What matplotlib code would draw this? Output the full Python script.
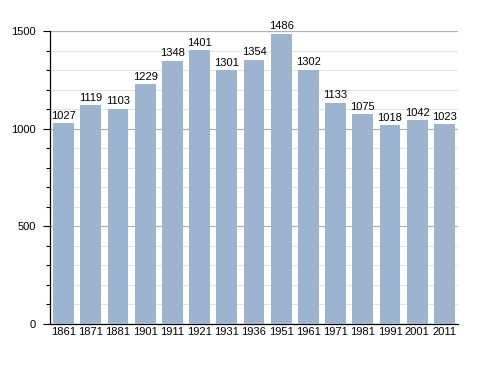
import matplotlib
matplotlib.use("Agg")
import matplotlib.pyplot as plt
from matplotlib.ticker import MultipleLocator

years = ["1861", "1871", "1881", "1901", "1911", "1921", "1931", "1936", "1951",
         "1961", "1971", "1981", "1991", "2001", "2011"]
population = [1027, 1119, 1103, 1229, 1348, 1401, 1301, 1354, 1486,
              1302, 1133, 1075, 1018, 1042, 1023]

plt.rcParams['font.family'] = ['Liberation Sans', 'DejaVu Sans']

fig = plt.figure(figsize=(4.88, 3.73), dpi=100)
ax = fig.add_axes([0.1025, 0.1314, 0.836, 0.7855])

x = range(len(years))
ax.bar(x, population, width=0.77, color='#9db4d0', zorder=3)
for xi, v in zip(x, population):
    ax.text(xi, v + 12, str(v), ha='center', va='bottom', fontsize=8, zorder=4)

ax.set_xlim(-0.5, len(years) - 0.5)
ax.set_ylim(0, 1500)
ax.set_xticks(list(x))
ax.set_xticklabels(years, fontsize=8)
ax.tick_params(axis='x', length=0, pad=2)
ax.yaxis.set_major_locator(MultipleLocator(500))
ax.yaxis.set_minor_locator(MultipleLocator(100))
ax.tick_params(axis='y', which='major', length=5, width=0.8, labelsize=8, pad=5)
ax.tick_params(axis='y', which='minor', length=3, width=0.8)
ax.grid(axis='y', which='major', color='#b0b0b0', linewidth=0.9, zorder=0)
ax.grid(axis='y', which='minor', color='#e3e3e3', linewidth=0.8, zorder=0)
for s in ['top', 'right']:
    ax.spines[s].set_visible(False)
ax.spines['left'].set_linewidth(0.9)
ax.spines['bottom'].set_linewidth(0.9)

fig.savefig("out.png", dpi=100)
